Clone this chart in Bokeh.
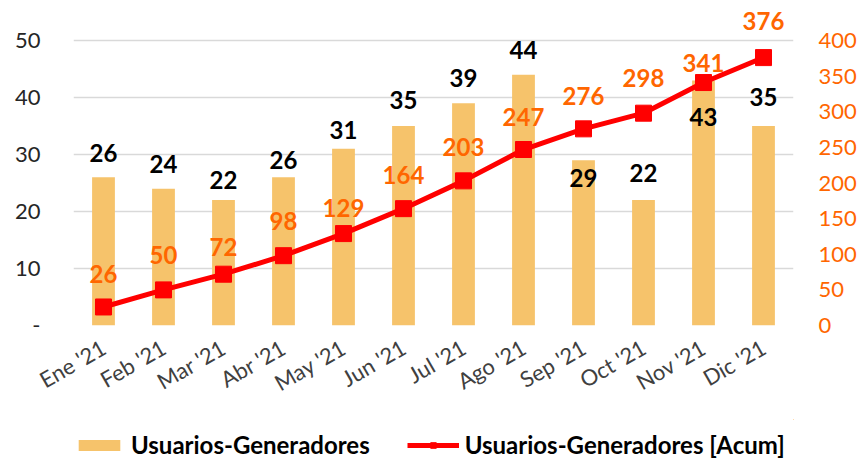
import math
from bokeh.plotting import figure
from bokeh.layouts import column
from bokeh.models import (ColumnDataSource, Range1d, LinearAxis, FixedTicker,
                          Legend, LegendItem)
from bokeh.core.properties import value
from bokeh.embed import file_html
from bokeh.resources import INLINE

# ---- data ----
months = ["Ene '21", "Feb '21", "Mar '21", "Abr '21", "May '21", "Jun '21",
          "Jul '21", "Ago '21", "Sep '21", "Oct '21", "Nov '21", "Dic '21"]
monthly = [26, 24, 22, 26, 31, 35, 39, 44, 29, 22, 43, 35]
cumulative = [26, 50, 72, 98, 129, 164, 203, 247, 276, 298, 341, 376]
left_ticks = [0, 10, 20, 30, 40, 50]
right_ticks = [0, 50, 100, 150, 200, 250, 300, 350, 400]
series_names = ["Usuarios-Generadores", "Usuarios-Generadores [Acum]"]

# label placement (pixels above the value; negative = inside bar)
bar_label_up = [24, 25, 20, 17, 19, 26, 25, 25, -18, 27, -37, 29]
line_label_up = [33, 35, 27, 35, 26, 34, 34, 33, 33, 35, 20, 37]

FONT = "Lato"
BAR_COLOR = "#F6C36B"
LINE_COLOR = "#FF0000"
ORANGE = "#FF6600"

x = list(range(len(months)))
src = ColumnDataSource(dict(
    x=x, monthly=monthly, cumulative=cumulative,
    monthly_txt=[str(v) for v in monthly],
    cum_txt=[str(v) for v in cumulative],
    bar_dy=[-d for d in bar_label_up],
    line_dy=[-d for d in line_label_up],
))

px_per_unit = 5.7
left_top = 317 / px_per_unit
p = figure(width=865, height=419, output_backend="svg", toolbar_location=None,
           x_range=Range1d(-0.5, len(months) - 0.5),
           y_range=Range1d(0, left_top),
           min_border_left=73, min_border_right=72, min_border_top=8,
           min_border_bottom=94)
p.extra_y_ranges = {"acum": Range1d(0, left_top * 8)}
p.outline_line_color = None
p.background_fill_color = "white"
p.border_fill_color = "white"

# grid
p.xgrid.visible = False
p.ygrid.ticker = FixedTicker(ticks=left_ticks)
p.ygrid.grid_line_color = "#D9D9D9"
p.ygrid.grid_line_width = 1.5

# left axis
ya = p.yaxis[0]
ya.ticker = FixedTicker(ticks=left_ticks)
ya.major_label_overrides = {0: "-"}
ya.axis_line_color = None
ya.major_tick_line_color = None
ya.minor_tick_line_color = None
ya.major_tick_out = 0
ya.minor_tick_out = 0
ya.major_label_standoff = 33
ya.major_label_text_font = FONT
ya.major_label_text_font_size = "22px"
ya.major_label_text_color = "#262626"

# right axis
ra = LinearAxis(y_range_name="acum", ticker=FixedTicker(ticks=right_ticks))
ra.axis_line_color = None
ra.major_tick_line_color = None
ra.minor_tick_line_color = None
ra.major_tick_out = 0
ra.minor_tick_out = 0
ra.major_label_standoff = 25
ra.major_label_text_font = FONT
ra.major_label_text_font_size = "22px"
ra.major_label_text_color = ORANGE
p.add_layout(ra, "right")

# x axis
xa = p.xaxis[0]
xa.ticker = FixedTicker(ticks=x)
xa.major_label_overrides = {i: m for i, m in enumerate(months)}
xa.major_label_orientation = math.pi / 6
xa.axis_line_color = None
xa.major_tick_line_color = None
xa.minor_tick_line_color = None
xa.major_tick_out = 0
xa.minor_tick_out = 0
xa.major_label_standoff = 20
xa.major_label_text_font = FONT
xa.major_label_text_font_size = "22px"
xa.major_label_text_color = "#404040"

# bars
bars = p.vbar(x="x", top="monthly", width=0.38, source=src,
              fill_color=BAR_COLOR, line_color=None)

# line + markers
line = p.line("x", "cumulative", source=src, y_range_name="acum",
              line_color=LINE_COLOR, line_width=5)
marks = p.scatter("x", "cumulative", source=src, y_range_name="acum",
                  marker="square", size=16, fill_color=LINE_COLOR,
                  line_color=LINE_COLOR)

# labels
p.text("x", "monthly", text="monthly_txt", source=src, y_offset="bar_dy",
       text_align="center", text_baseline="middle",
       text_font=value(FONT), text_font_style="bold",
       text_font_size="24px", text_color="black")
p.text("x", "cumulative", text="cum_txt", source=src, y_range_name="acum",
       y_offset="line_dy", text_align="center", text_baseline="middle",
       text_font=value(FONT), text_font_style="bold",
       text_font_size="24px", text_color=ORANGE)

# ---- legend strip (separate figure; its glyphs use the same data but the
# view is placed away from it so only the legend is visible) ----
lg = figure(width=865, height=40, output_backend="svg", toolbar_location=None,
            x_axis_type=None, y_axis_type=None,
            x_range=Range1d(-100, -99), y_range=Range1d(-100, -99),
            min_border_left=0, min_border_right=0, min_border_top=0,
            min_border_bottom=0)
lg.outline_line_color = None
lg.xgrid.visible = False
lg.ygrid.visible = False
lbar = lg.vbar(x="x", top="monthly", width=0.38, source=src,
               fill_color=BAR_COLOR, line_color=None)
lline = lg.line("x", "cumulative", source=src, line_color=LINE_COLOR,
                line_width=5)
lmark = lg.scatter("x", "cumulative", source=src, marker="square", size=16,
                   fill_color=LINE_COLOR, line_color=LINE_COLOR)
legend = Legend(items=[
    LegendItem(label=series_names[0], renderers=[lbar]),
    LegendItem(label=series_names[1], renderers=[lline, lmark]),
], orientation="horizontal", location=(0, 0), padding=0, spacing=37,
   glyph_width=52, glyph_height=14, label_standoff=6,
   label_text_font=FONT, label_text_font_style="bold",
   label_text_font_size="24px", label_text_color="black",
   border_line_color=None, background_fill_alpha=0, margin=0)
lg.add_layout(legend, "center")

open("out.html", "w").write(file_html(column(p, lg, spacing=0), INLINE))
